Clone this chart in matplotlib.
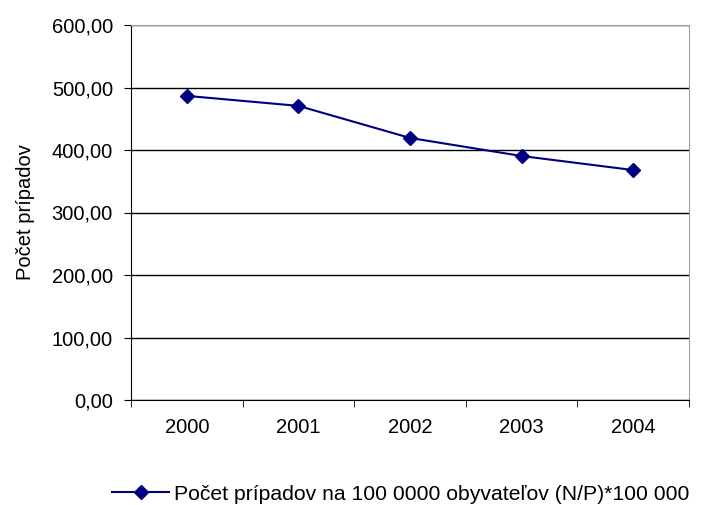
import numpy as np
import matplotlib.pyplot as plt
from matplotlib.ticker import FixedLocator

plt.rcParams['font.family'] = ['Liberation Sans', 'DejaVu Sans']

# DATA
years = ['2000', '2001', '2002', '2003', '2004']
cases = [486.6, 470.6, 419.3, 390.4, 367.9]
series_label = 'Počet prípadov na 100 0000 obyvateľov (N/P)*100 000'
y_ticks = [0, 100, 200, 300, 400, 500, 600]

FS = 14.5

fig = plt.figure(figsize=(7.01, 5.05), dpi=100)
ax = fig.add_axes([131 / 701, 1 - 400 / 505, 558 / 701, 375 / 505])

x = np.arange(len(years))
ax.plot(x, cases, color='#000080', lw=1.5, marker='D', markersize=7,
        label=series_label)

ax.set_xlim(-0.5, len(years) - 0.5)
ax.set_ylim(0, 600)
ax.set_yticks(y_ticks)
ax.set_yticklabels([f'{v:.2f}'.replace('.', ',') for v in y_ticks], fontsize=FS)

# category labels centred, tick marks on the boundaries
ax.set_xticks(x)
ax.set_xticklabels(years, fontsize=FS)
ax.tick_params(axis='x', which='major', length=0, pad=13)
ax.xaxis.set_minor_locator(FixedLocator(np.arange(-0.5, len(years), 1)))
ax.tick_params(axis='x', which='minor', length=5, direction='out', color='black')
ax.tick_params(axis='y', length=5, direction='out', color='black', pad=8)

ax.grid(axis='y', color='black', lw=1)
ax.set_axisbelow(True)
for s in ['top', 'right']:
    ax.spines[s].set_color('#a0a0a0')
for s in ['left', 'bottom']:
    ax.spines[s].set_color('black')

ax.set_ylabel('Počet prípadov', fontsize=FS, labelpad=12)

fig.legend(loc='center', bbox_to_anchor=(401 / 701, 1 - 494 / 505),
           frameon=False, fontsize=15.2, handlelength=2.7, handletextpad=0.25)

fig.savefig('out.png', dpi=100)
